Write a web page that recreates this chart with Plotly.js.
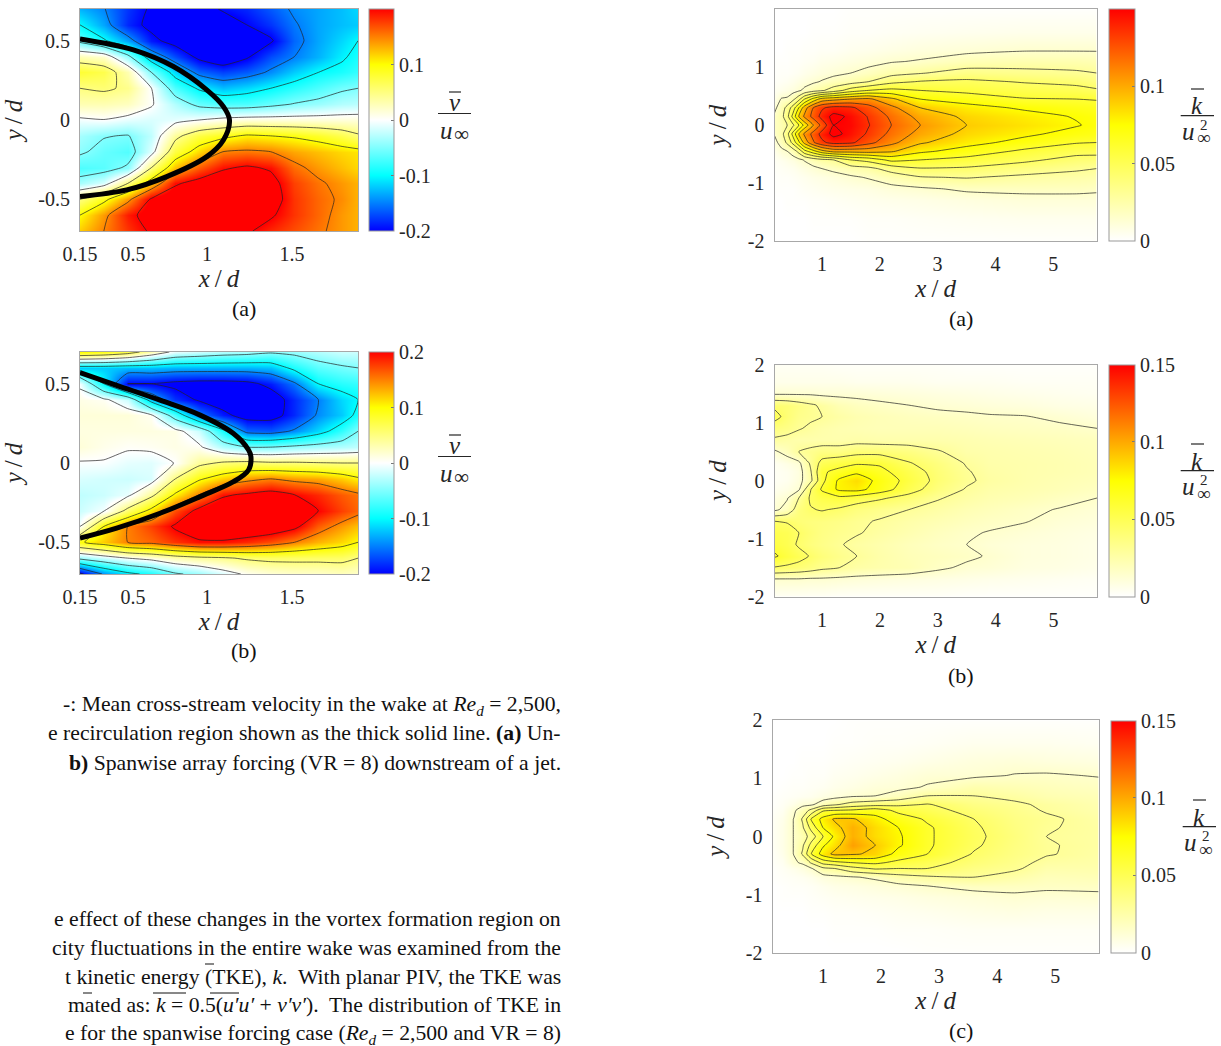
<!DOCTYPE html>
<html><head><meta charset="utf-8">
<script src="https://cdn.plot.ly/plotly-3.0.1.min.js"></script>
<style>html,body{margin:0;padding:0;background:#fff;overflow:hidden}</style>
</head><body><div id="chart" style="width:1221px;height:1046px"></div>
<script>
// ---------- mean cross-stream velocity fields (rows from y = 0.7 down to -0.7) ----------
const vX = [0.15,0.3,0.45,0.6,0.75,0.9,1.05,1.2,1.35,1.5,1.65,1.8,1.9];
const vY = [0.7,0.6,0.5,0.4,0.3,0.2,0.1,0,-0.1,-0.2,-0.3,-0.4,-0.5,-0.6,-0.7];
const vA = [
[-.13,-.148,-.18,-.205,-.22,-.22,-.195,-.185,-.165,-.145,-.135,-.125,-.115],
[-.1,-.135,-.185,-.21,-.225,-.23,-.225,-.2,-.18,-.153,-.135,-.125,-.12],
[-.06,-.095,-.135,-.19,-.215,-.23,-.23,-.22,-.205,-.16,-.135,-.115,-.1],
[.03,.02,-.04,-.125,-.17,-.21,-.23,-.205,-.17,-.15,-.13,-.105,-.09],
[.08,.07,.03,-.05,-.115,-.16,-.175,-.165,-.145,-.12,-.1,-.09,-.08],
[.05,.055,.045,0,-.07,-.105,-.125,-.115,-.1,-.085,-.07,-.055,-.05],
[.03,.03,.025,.003,-.03,-.06,-.07,-.07,-.06,-.048,-.04,-.03,-.027],
[-.005,-.001,-.01,-.015,-.01,0,.01,.015,.015,.015,.015,.015,.015],
[-.035,-.048,-.052,-.025,.04,.075,.09,.105,.1,.095,.085,.07,.055],
[-.045,-.06,-.068,-.012,.075,.115,.15,.155,.15,.135,.125,.115,.11],
[-.07,-.065,-.045,.05,.125,.165,.195,.205,.195,.158,.14,.125,.115],
[-.035,-.015,.05,.12,.195,.215,.225,.225,.215,.175,.155,.14,.13],
[.05,.09,.14,.205,.225,.23,.235,.23,.22,.18,.16,.145,.13],
[.1,.14,.19,.215,.23,.235,.235,.225,.205,.18,.16,.14,.13],
[.12,.15,.18,.205,.22,.225,.215,.205,.185,.17,.155,.14,.13]];
const vB = [
[.1,.09,.07,.03,-.01,-.02,-.03,-.035,-.045,-.04,-.03,-.02,-.02],
[-.12,-.12,-.125,-.125,-.13,-.13,-.13,-.13,-.125,-.09,-.065,-.055,-.05],
[-.005,-.1,-.2,-.2,-.21,-.215,-.215,-.21,-.19,-.155,-.1,-.085,-.08],
[.01,.005,-.02,-.12,-.18,-.205,-.22,-.225,-.22,-.185,-.15,-.115,-.1],
[.015,.015,.015,.005,-.07,-.15,-.19,-.215,-.215,-.185,-.145,-.12,-.09],
[.012,.012,.012,.012,.01,-.02,-.09,-.16,-.165,-.145,-.115,-.08,-.05],
[.015,.008,.003,.005,.01,.005,-.03,-.05,-.05,-.042,-.035,-.03,-.025],
[-.002,-.002,-.01,-.012,.001,.04,.055,.06,.055,.055,.052,.05,.05],
[-.015,-.018,-.02,-.015,.05,.095,.12,.14,.15,.14,.135,.12,.105],
[-.025,-.02,-.008,.04,.105,.15,.195,.205,.215,.2,.185,.165,.155],
[-.02,-.003,.06,.11,.17,.21,.225,.235,.235,.225,.2,.175,.16],
[0,.1,.15,.175,.205,.225,.235,.235,.23,.21,.165,.14,.125],
[.095,.12,.15,.16,.18,.195,.195,.185,.17,.15,.13,.115,.1],
[-.04,-.02,0,.012,.03,.04,.045,.055,.06,.06,.06,.06,.05],
[-.21,-.145,-.11,-.09,-.055,-.04,-.015,.005,.015,.02,.02,.025,.02]];
const lineAX = [.15,.486,.738,.948,1.053,1.091,1.053,.948,.696,.444,.15];
const lineAY = [.511,.442,.337,.19,.084,0,-.126,-.231,-.357,-.441,-.483];
const lineBX = [.15,.381,.654,.906,1.116,1.211,1.226,1.211,1.116,.906,.654,.381,.15];
const lineBY = [.57,.49,.396,.302,.186,.082,.04,-.044,-.118,-.212,-.317,-.411,-.474];

// ---------- turbulent kinetic energy fields ----------
const kAX = [.18,.3,.4,.5,.6,.7,.85,1,1.2,1.5,1.8,2.2,2.7,3.5,4.5,5.4,5.75];
const kAY = [2,1.6,1.3,1.1,.9,.75,.6,.45,.3,.15,0,-.15,-.3,-.45,-.6,-.75,-.9,-1.1,-1.3,-1.6,-2];
const kAColumns = [
[0,0,0,.001,.001,.002,.004,.007,.012,.017,.018,.016,.011,.006,.003,.002,.001,.001,0,0,0],
[0,0,0,.001,.002,.003,.006,.016,.022,.025,.022,.025,.02,.012,.005,.003,.002,.001,0,0,0],
[0,0,.001,.001,.002,.004,.008,.017,.035,.04,.03,.04,.033,.015,.007,.004,.002,.001,.001,0,0],
[0,0,.001,.002,.003,.006,.01,.026,.052,.065,.042,.065,.05,.022,.009,.005,.003,.001,.001,0,0],
[0,0,.001,.002,.004,.008,.013,.04,.075,.09,.06,.09,.072,.035,.012,.007,.004,.002,.001,0,0],
[0,0,.002,.003,.006,.01,.018,.06,.098,.108,.08,.108,.095,.055,.016,.009,.005,.003,.001,0,0],
[0,.001,.002,.004,.008,.013,.024,.08,.12,.125,.105,.125,.118,.07,.022,.012,.007,.004,.002,.001,0],
[0,.001,.003,.006,.01,.016,.028,.096,.133,.14,.125,.14,.132,.085,.026,.015,.008,.005,.002,.001,0],
[0,.001,.003,.007,.012,.02,.037,.1,.14,.155,.15,.155,.14,.095,.03,.018,.01,.006,.003,.001,0],
[.001,.002,.005,.009,.015,.024,.052,.105,.138,.147,.148,.145,.138,.095,.045,.023,.013,.007,.004,.001,0],
[.001,.002,.006,.011,.019,.03,.06,.108,.126,.134,.136,.133,.125,.096,.05,.026,.016,.008,.005,.002,.001],
[.001,.003,.008,.014,.025,.041,.064,.093,.109,.117,.12,.116,.109,.092,.064,.036,.022,.011,.006,.002,.001],
[.001,.004,.01,.016,.029,.046,.06,.075,.09,.1,.105,.1,.092,.078,.06,.044,.029,.013,.007,.003,.001],
[.001,.005,.012,.021,.036,.048,.056,.069,.08,.087,.09,.086,.08,.069,.055,.043,.031,.017,.009,.004,.001],
[.001,.006,.014,.023,.034,.044,.052,.061,.073,.08,.083,.078,.07,.057,.048,.037,.027,.018,.011,.005,.001],
[.001,.006,.014,.023,.032,.041,.05,.06,.068,.074,.076,.07,.061,.05,.04,.032,.025,.018,.011,.005,.001],
[.001,.006,.014,.022,.03,.037,.047,.059,.066,.071,.072,.068,.06,.05,.039,.03,.024,.017,.011,.005,.001]];
const kBX = [.18,.4,.6,.8,1,1.3,1.6,2,2.5,3,3.5,3.9,4.5,5.1,5.75];
const kBY = [2,1.7,1.5,1.3,1.1,.9,.7,.5,.3,.15,0,-.15,-.3,-.5,-.7,-.9,-1.1,-1.3,-1.5,-1.7,-2];
const kBRows = [
[.003,.003,.003,.003,.003,.002,.002,.002,.002,.002,.001,.001,.001,.001,.001],
[.006,.006,.006,.006,.006,.006,.005,.005,.005,.004,.004,.004,.003,.003,.003],
[.013,.013,.013,.013,.012,.012,.012,.011,.01,.009,.008,.007,.006,.005,.004],
[.042,.04,.036,.032,.028,.022,.019,.017,.015,.013,.012,.011,.01,.008,.007],
[.05,.04,.034,.032,.03,.026,.023,.021,.019,.018,.017,.016,.0155,.013,.01],
[.037,.035,.031,.028,.025,.023,.022,.021,.021,.021,.02,.019,.018,.017,.015],
[.028,.026,.024,.024,.024,.024,.025,.024,.024,.024,.023,.022,.021,.02,.019],
[.013,.02,.03,.033,.036,.036,.04,.04,.037,.031,.025,.024,.023,.022,.02],
[.004,.008,.012,.032,.05,.055,.058,.058,.046,.038,.029,.025,.024,.023,.021],
[.003,.005,.009,.028,.058,.064,.072,.064,.052,.04,.031,.026,.024,.023,.021],
[.003,.005,.01,.026,.056,.078,.085,.07,.055,.041,.032,.027,.024,.022,.02],
[.005,.008,.013,.044,.062,.078,.08,.068,.051,.038,.029,.025,.023,.021,.018],
[.009,.014,.03,.047,.052,.056,.052,.047,.04,.031,.026,.023,.021,.018,.015],
[.012,.02,.038,.044,.046,.043,.038,.034,.03,.026,.022,.02,.017,.0145,.012],
[.045,.044,.04,.038,.037,.035,.032,.029,.025,.022,.019,.017,.0155,.012,.01],
[.052,.05,.045,.04,.036,.033,.031,.027,.023,.019,.016,.0145,.012,.01,.008],
[.055,.051,.043,.038,.035,.031,.027,.024,.02,.017,.015,.012,.01,.009,.007],
[.062,.055,.05,.044,.039,.034,.03,.025,.021,.019,.017,.014,.01,.009,.007],
[.044,.042,.04,.037,.033,.03,.026,.024,.022,.017,.013,.012,.009,.008,.006],
[.014,.014,.014,.013,.013,.012,.011,.01,.009,.008,.007,.006,.005,.004,.003],
[.003,.003,.003,.003,.003,.002,.002,.002,.002,.002,.001,.001,.001,.001,.001]];
const kCX = [.13,.3,.5,.65,.8,1,1.2,1.5,1.9,2.3,2.8,3.6,4.3,4.85,5.75];
const kCY = [2,1.6,1.3,1.05,.85,.7,.55,.45,.3,.15,0,-.15,-.3,-.45,-.55,-.7,-.85,-1.05,-1.3,-1.6,-2];
const kCColumns = [
[0,0,0,0,0,.001,.001,.002,.003,.003,.003,.003,.002,.002,.001,.001,0,0,0,0,0],
[0,0,0,0,.001,.002,.003,.004,.006,.007,.007,.007,.006,.004,.003,.002,.001,.001,0,0,0],
[0,0,0,.001,.002,.003,.007,.013,.0155,.0155,.0155,.0155,.0155,.013,.006,.003,.002,.001,0,0,0],
[0,0,.001,.001,.002,.004,.012,.022,.032,.028,.022,.028,.032,.017,.009,.004,.002,.001,0,0,0],
[0,0,.001,.002,.003,.005,.013,.034,.062,.05,.037,.05,.06,.032,.014,.006,.003,.002,.001,0,0],
[0,0,.001,.002,.004,.008,.022,.058,.08,.075,.06,.073,.082,.05,.027,.01,.005,.003,.001,0,0],
[0,.001,.002,.004,.006,.01,.028,.06,.092,.085,.078,.084,.094,.055,.03,.012,.007,.004,.002,.001,0],
[.001,.001,.003,.005,.008,.013,.036,.062,.092,.098,.098,.103,.092,.06,.04,.014,.008,.005,.002,.001,0],
[.001,.002,.004,.007,.011,.015,.04,.068,.08,.085,.085,.09,.087,.063,.047,.017,.01,.006,.003,.001,0],
[.001,.002,.005,.009,.012,.02,.042,.056,.068,.075,.077,.077,.07,.056,.045,.024,.012,.007,.004,.002,0],
[.001,.003,.007,.012,.016,.03,.046,.05,.058,.062,.062,.062,.06,.05,.045,.028,.015,.009,.005,.002,.001],
[.001,.005,.01,.013,.024,.03,.036,.04,.045,.047,.048,.047,.044,.04,.036,.03,.018,.011,.007,.003,.001],
[.001,.005,.011,.0155,.022,.027,.032,.034,.036,.037,.038,.037,.036,.034,.032,.025,.018,.013,.008,.003,.001],
[.001,.005,.01,.016,.02,.023,.028,.029,.032,.031,.03,.031,.031,.027,.024,.02,.017,.012,.007,.003,.001],
[.001,.004,.009,.0145,.018,.021,.023,.024,.026,.027,.027,.027,.026,.025,.024,.021,.017,.013,.007,.003,.001]];

// ---------- labels and colours ----------
const vLevels = {start:-0.2,end:0.2,size:0.05};
const kLevels = {start:0.015,end:0.15,size:0.015};
const vColors = [[0,'#0000ff'],[.25,'#00ffff'],[.5,'#ffffff'],[.75,'#ffff00'],[1,'#ff0000']];
const kColors = [[0,'#ffffff'],[.5,'#ffff00'],[1,'#ff0000']];
const vXTickVals = [.15,.483,.95,1.484], vXTickText = ['0.15','0.5','1','1.5'];
const vYTickVals = [.5,0,-.5], vYTickText = ['0.5','0','-0.5'];
const kXTickVals = [1,2,3,4,5], kXTickText = ['1','2','3','4','5'];
const kYTickVals = [2,1,0,-1,-2], kYTickText = ['2','1','0','-1','-2'];
const vBarVals = [.2,.1,0,-.1,-.2], vBarText = ['0.2','0.1','0','-0.1','-0.2'];
const kBarVals = [.15,.1,.05,0], kBarText = ['0.15','0.1','0.05','0'];
const captionLines = [
 ['-: Mean cross-stream velocity in the wake at <i>Re<sub>d</sub></i> = 2,500,',705],
 ['e recirculation region shown as the thick solid line. <b>(a)</b> Un-',733],
 ['<b>b)</b> Spanwise array forcing (VR = 8) downstream of a jet.',763],
 ['e effect of these changes in the vortex formation region on',919],
 ['city fluctuations in the entire wake was examined from the',948],
 ['t kinetic energy (TKE), <i>k</i>.  With planar PIV, the TKE was',977],
 ['mated as: <i>k</i> = 0.5(<i>u′u′</i> + <i>v′v′</i>).  The distribution of TKE in',1005],
 ['e for the spanwise forcing case (<i>Re<sub>d</sub></i> = 2,500 and VR = 8)',1034]];

// ---------- assembly ----------
const W=1221,H=1046,SERIF='"Liberation Serif",serif',INK='#262626';
const px=v=>v/W, py=v=>1-v/H;
const rev=a=>a.slice().reverse();
const transpose=c=>c[0].map((_,i)=>c.map(col=>col[i]));
const panels=[
 {x:vX,y:vY,z:vA,box:[80,358,9,231],bar:[369,394],range:[.15,1.9],yr:[-.7,.7],cs:vColors,zr:[-.2,.2],lev:vLevels,tx:vXTickVals,ttx:vXTickText,ty:vYTickVals,tty:vYTickText,bv:vBarVals,bt:vBarText},
 {x:vX,y:vY,z:vB,box:[80,358,352,574],bar:[369,394],range:[.15,1.9],yr:[-.7,.7],cs:vColors,zr:[-.2,.2],lev:vLevels,tx:vXTickVals,ttx:vXTickText,ty:vYTickVals,tty:vYTickText,bv:vBarVals,bt:vBarText},
 {x:kAX,y:kAY,z:transpose(kAColumns),box:[774.5,1096.7,9.3,241],bar:[1108.7,1134.5],range:[.18,5.75],yr:[-2,2],cs:kColors,zr:[0,.15],lev:kLevels,tx:kXTickVals,ttx:kXTickText,ty:kYTickVals,tty:kYTickText,bv:kBarVals,bt:kBarText},
 {x:kBX,y:kBY,z:kBRows,box:[774.5,1097,364.5,596.7],bar:[1109,1134.7],range:[.18,5.75],yr:[-2,2],cs:kColors,zr:[0,.15],lev:kLevels,tx:kXTickVals,ttx:kXTickText,ty:kYTickVals,tty:kYTickText,bv:kBarVals,bt:kBarText},
 {x:kCX,y:kCY,z:transpose(kCColumns),box:[772.5,1098.7,720.3,952.7],bar:[1110.7,1136],range:[.13,5.75],yr:[-2,2],cs:kColors,zr:[0,.15],lev:kLevels,tx:kXTickVals,ttx:kXTickText,ty:kYTickVals,tty:kYTickText,bv:kBarVals,bt:kBarText}];
const traces=[],shapes=[],annotations=[];
const layout={width:W,height:H,margin:{l:0,r:0,t:0,b:0},paper_bgcolor:'#fff',plot_bgcolor:'#fff',showlegend:false,shapes,annotations,font:{family:SERIF,color:INK}};
panels.forEach((p,i)=>{
 const n=i?String(i+1):'',xa='xaxis'+n,ya='yaxis'+n,[l,r,t,b]=p.box;
 const common={xaxis:'x'+n,yaxis:'y'+n,x:p.x,y:rev(p.y),z:rev(p.z)};
 traces.push({...common,type:'heatmap',zsmooth:'best',zmin:p.zr[0],zmax:p.zr[1],colorscale:p.cs,hoverinfo:'skip',
  colorbar:{x:px(p.bar[0]),xanchor:'left',xpad:0,y:1-(t+b)/2/H,yanchor:'middle',ypad:0,lenmode:'pixels',len:b-t,thicknessmode:'pixels',thickness:p.bar[1]-p.bar[0],
   outlinecolor:'#999',outlinewidth:1,borderwidth:0,tickmode:'array',tickvals:p.bv,ticktext:p.bt,ticks:'inside',ticklen:3,tickcolor:'#777',tickwidth:1,tickfont:{family:SERIF,size:20,color:INK}}});
 traces.push({...common,type:'contour',autocontour:false,showscale:false,hoverinfo:'skip',contours:{coloring:'none',...p.lev,showlabels:false},line:{color:'#222',width:.7,smoothing:.5},colorscale:[[0,'#222'],[1,'#222']]});
 const axisBase={showgrid:false,zeroline:false,showline:true,mirror:true,linecolor:'#a8a8a8',linewidth:1,tickmode:'array',ticks:'outside',ticklen:5,tickcolor:'rgba(0,0,0,0)',tickfont:{family:SERIF,size:20,color:INK}};
 layout[xa]={...axisBase,domain:[px(l),px(r)],range:p.range,anchor:'y'+n,tickvals:p.tx,ticktext:p.ttx,
  title:{text:'<i>x</i>\u2009/\u2009<i>d</i>',font:{family:SERIF,size:25,color:INK},standoff:4}};
 layout[ya]={...axisBase,domain:[1-b/H,1-t/H],range:p.yr,anchor:'x'+n,tickvals:p.ty,ticktext:p.tty,
  title:{text:'<i>y</i>\u2009/\u2009<i>d</i>',font:{family:SERIF,size:25,color:INK},standoff:i<2?10:14}};
});
traces.push({type:'scatter',mode:'lines',xaxis:'x',yaxis:'y',x:lineAX,y:lineAY,line:{color:'#000',width:5,shape:'spline',smoothing:1},hoverinfo:'skip'});
traces.push({type:'scatter',mode:'lines',xaxis:'x2',yaxis:'y2',x:lineBX,y:lineBY,line:{color:'#000',width:5,shape:'spline',smoothing:1},hoverinfo:'skip'});

function text(t,x,y,size,opts){annotations.push({xref:'paper',yref:'paper',x:px(x),y:py(y),text:t,showarrow:false,xanchor:'center',yanchor:'middle',borderpad:0,font:{family:SERIF,size:size,color:'#111'},...opts});}
function rule(x0,x1,y,c,w){shapes.push({type:'line',xref:'paper',yref:'paper',x0:px(x0),x1:px(x1),y0:py(y),y1:py(y),line:{color:c||INK,width:w||1.2}});}
[[243.5,308,'(a)'],[243.5,650,'(b)'],[961,319,'(a)'],[961,675,'(b)'],[961,1030,'(c)']].forEach(c=>text(c[2],c[0],c[1],22));
captionLines.forEach(c=>text(c[0],562,c[1],21.7,{xanchor:'right'}));
// fraction labels of the colour bars
[0,343].forEach(d=>{
 text('<i>v</i>',455,102+d,25,{font:{family:SERIF,size:25,color:INK}});
 rule(449,461,92+d); rule(438,471,113.5+d);
 text('<i>u</i>',446,130+d,25,{font:{family:SERIF,size:25,color:INK}});
 text('∞',461,134+d,21,{font:{family:SERIF,size:21,color:INK}});
});
[[0,0],[355,0],[711,2]].forEach(([d,e])=>{
 text('<i>k</i>',1197+e,106+d,25,{font:{family:SERIF,size:25,color:INK}});
 rule(1191+e,1204+e,89+d); rule(1180.7+e,1214+e,115.7+d);
 text('<i>u</i>',1188+e,131+d,25,{font:{family:SERIF,size:25,color:INK}});
 text('2',1204+e,125+d,15,{font:{family:SERIF,size:15,color:INK}});
 text('∞',1204+e,138+d,19,{font:{family:SERIF,size:19,color:INK}});
});
// overbars in the running text
rule(205,214,964,'#111',1); rule(83,92,993,'#111',1); rule(153,186,993,'#111',1); rule(210,239,993,'#111',1);
Plotly.newPlot('chart',traces,layout,{staticPlot:true,displayModeBar:false});
</script></body></html>
